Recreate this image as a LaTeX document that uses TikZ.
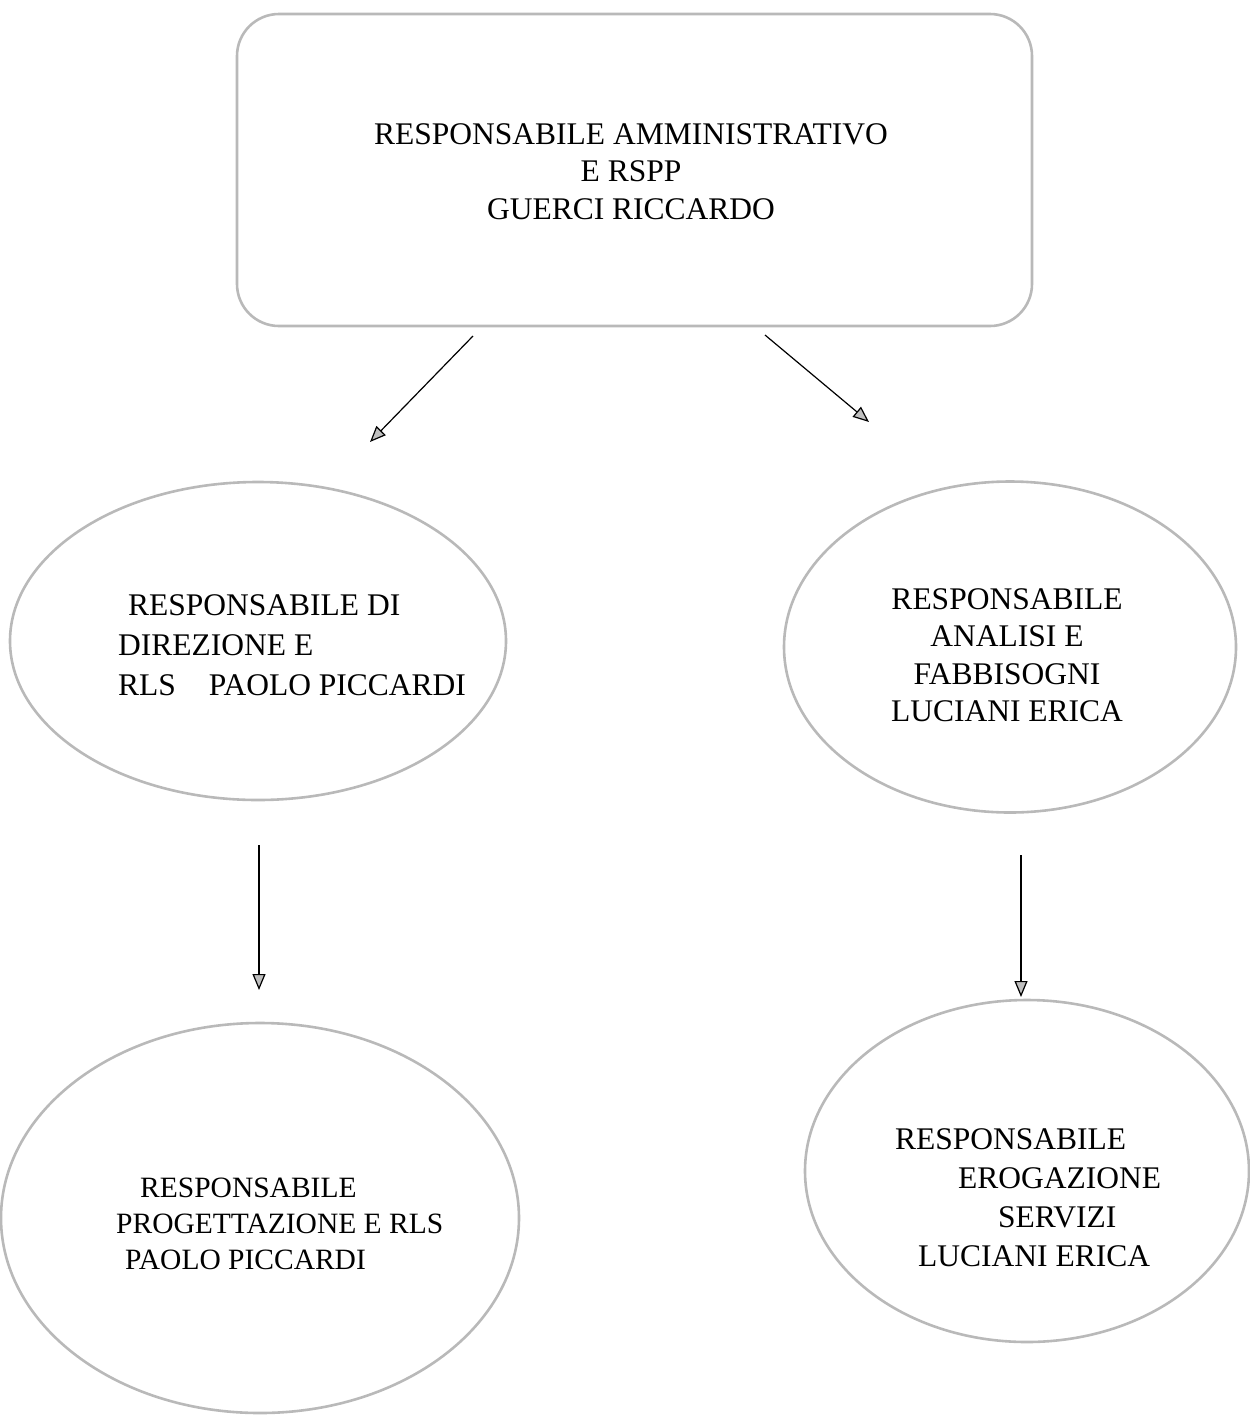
\documentclass[tikz,border=0pt]{standalone}
\usepackage{fontspec}
\setmainfont{Liberation Serif}
\usetikzlibrary{shapes.geometric,arrows.meta}
\begin{document}
\begin{tikzpicture}[x=1pt,y=-1pt,
  frame/.style={draw=gray!55,line width=2.6pt},
  oval/.style={frame,ellipse,inner sep=0pt},
  lbl/.style={inner sep=0pt,font=\fontsize{31.5}{37.5}\selectfont},
  arr/.style={draw=black,line width=1.2pt,-{Triangle[length=16pt,width=13pt,fill=gray!50]}}]
\useasboundingbox (0,0) rectangle (1250,1417);
% top box
\node[frame,rectangle,rounded corners=42pt,minimum width=795pt,minimum height=312pt] (top) at (634.5,170) {};
\node[lbl,align=center,anchor=north] (toptext) at (631,123) {RESPONSABILE AMMINISTRATIVO\\E RSPP\\GUERCI RICCARDO};
% ellipses
\node[oval,minimum width=496pt,minimum height=318pt] (dir) at (258,641) {};
\node[oval,minimum width=452pt,minimum height=331pt] (ana) at (1010,647) {};
\node[oval,minimum width=518pt,minimum height=390pt] (prog) at (260,1218) {};
\node[oval,minimum width=444pt,minimum height=342pt] (erog) at (1027,1171) {};
% texts
\node[lbl,font=\fontsize{31.5}{40}\selectfont,align=left,anchor=north west] (dirtext) at (118,594) {\hspace{10pt}RESPONSABILE DI\\DIREZIONE E\\RLS\hspace{33pt}PAOLO PICCARDI};
\node[lbl,align=center,anchor=north] (anatext) at (1007,588) {RESPONSABILE\\ANALISI E\\FABBISOGNI\\LUCIANI ERICA};
\node[lbl,font=\fontsize{29.5}{36}\selectfont,align=left,anchor=north west] (progtext) at (116,1178) {\hspace{24pt}RESPONSABILE\\PROGETTAZIONE E RLS\\\hspace{9pt}PAOLO PICCARDI};
\node[lbl,font=\fontsize{31.5}{39}\selectfont,align=left,anchor=north west] (erogtext) at (895,1128) {RESPONSABILE\\\hspace{63pt}EROGAZIONE\\\hspace{103pt}SERVIZI\\\hspace{23pt}LUCIANI ERICA};
% connector ends
\coordinate (a1s) at (473,336); \coordinate (a1e) at (370,442);
\coordinate (a2s) at (765,335); \coordinate (a2e) at (869,422);
\coordinate (a3s) at (259,845); \coordinate (a3e) at (259,990);
\coordinate (a4s) at (1021,855); \coordinate (a4e) at (1021,997);
\draw[arr] (a1s) -- (a1e);
\draw[arr] (a2s) -- (a2e);
\draw[arr] (a3s) -- (a3e);
\draw[arr] (a4s) -- (a4e);
\end{tikzpicture}
\end{document}
